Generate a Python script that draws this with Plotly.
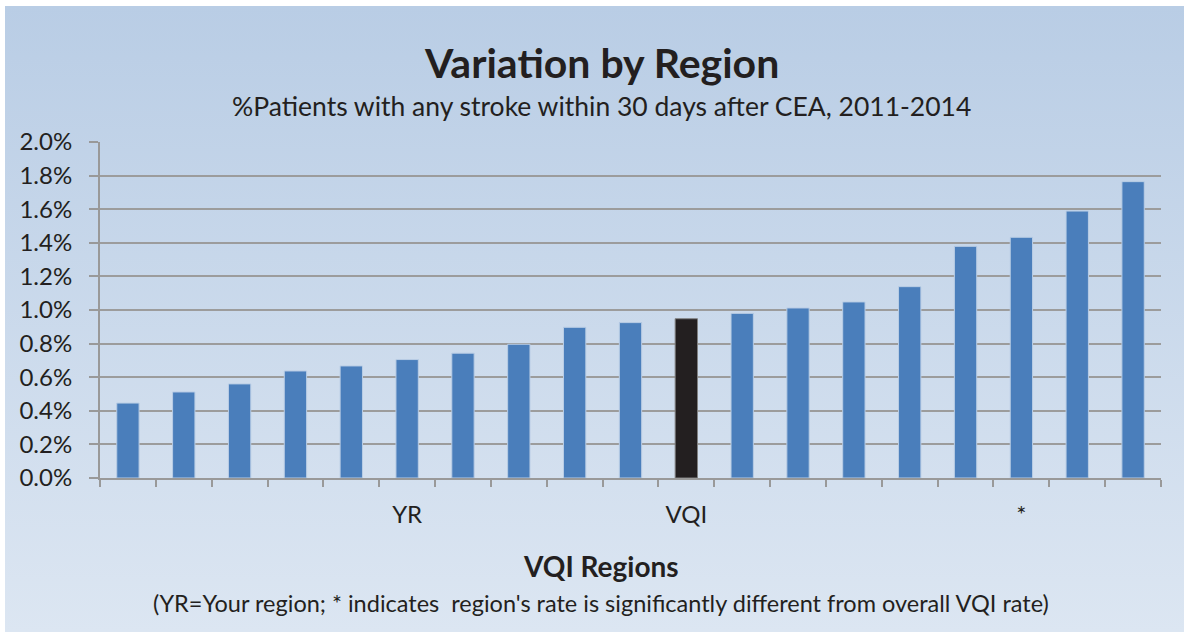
"""Variation by region: 30-day stroke rate after CEA, bar chart."""

import base64

import plotly.graph_objects as go


# --- data -----------------------------------------------------------------
REGION_LABELS = ["", "", "", "", "", "YR", "", "", "", "", "VQI", "", "", "", "", "", "*", "", ""]
STROKE_RATE = [0.446, 0.512, 0.560, 0.637, 0.667, 0.705, 0.743, 0.796, 0.897, 0.925,
               0.948, 0.980, 1.012, 1.048, 1.139, 1.379, 1.433, 1.589, 1.764]  # percent
Y_TICKS = [0.0, 0.2, 0.4, 0.6, 0.8, 1.0, 1.2, 1.4, 1.6, 1.8, 2.0]

BLUE = "#4a7ebb"
BLACK = "#231f20"
FONT = "Lato"

# category keys must be unique, blank labels get zero-width padding
categories = [lab if lab else "\u200b" * (i + 1) for i, lab in enumerate(REGION_LABELS)]
colors = [BLACK if lab == "VQI" else BLUE for lab in REGION_LABELS]
edges = ["#808080" if lab == "VQI" else "#b9cde5" for lab in REGION_LABELS]

# background gradient as an inline svg
svg = (
    '<svg xmlns="http://www.w3.org/2000/svg" width="1184" height="632" '
    'viewBox="0 0 100 100" preserveAspectRatio="none">'
    '<defs><linearGradient id="g" x1="0" y1="0" x2="0" y2="1">'
    '<stop offset="0" stop-color="#b9cde5"/><stop offset="1" stop-color="#dce6f2"/>'
    '</linearGradient></defs><rect x="0" y="0" width="100" height="100" fill="url(#g)"/></svg>'
)
bg_src = "data:image/svg+xml;base64," + base64.b64encode(svg.encode()).decode()

W, H = 1184, 632
ML, MR, MT, MB = 100, 23, 142, 154
plot_w = W - ML - MR
plot_h = H - MT - MB


def px(x_pix):
    return (x_pix - ML) / plot_w


def py(y_pix):
    return (H - MB - y_pix) / plot_h


fig = go.Figure(
    go.Bar(
        x=categories,
        y=STROKE_RATE,
        marker=dict(color=colors, line=dict(color=edges, width=1)),
        hovertemplate="%{y:.2f}%<extra></extra>",
    )
)

fig.update_layout(
    width=W,
    height=H,
    margin=dict(l=ML, r=MR, t=MT, b=MB),
    paper_bgcolor="#dce6f2",
    plot_bgcolor="white",
    bargap=0.6,
    showlegend=False,
    font=dict(family=FONT, color="#231f20"),
    images=[dict(
        source=bg_src, xref="paper", yref="paper",
        x=px(5), y=py(6), sizex=(W - 5) / plot_w, sizey=(H - 6) / plot_h,
        xanchor="left", yanchor="top", sizing="stretch", layer="below",
    )],
    shapes=[
        # white frame strips along the left and top edges
        dict(type="rect", xref="paper", yref="paper", x0=px(0), x1=px(5), y0=py(H), y1=py(0),
             fillcolor="white", line_width=0, layer="below"),
        dict(type="rect", xref="paper", yref="paper", x0=px(0), x1=px(W), y0=py(6), y1=py(0),
             fillcolor="white", line_width=0, layer="below"),
    ],
)

fig.update_xaxes(
    type="category",
    tickson="boundaries",
    ticks="outside",
    ticklen=7,
    tickwidth=2,
    tickcolor="#999999",
    showline=True,
    linecolor="#999999",
    linewidth=2,
    showgrid=False,
    tickfont=dict(size=24, color="#231f20"),
    ticklabelstandoff=14,
)
fig.update_yaxes(
    range=[0, 2.0],
    tickvals=Y_TICKS,
    ticktext=[f"{v:.1f}%" for v in Y_TICKS],
    ticks="outside",
    ticklen=9,
    tickwidth=2,
    tickcolor="#999999",
    showline=True,
    linecolor="#999999",
    linewidth=2,
    showgrid=True,
    gridcolor="#9c9c9c",
    gridwidth=2,
    zeroline=False,
    tickfont=dict(size=24, color="#231f20"),
    ticklabelstandoff=12,
)

texts = [
    ("<b>Variation by Region</b>", 63, 41),
    ("%Patients with any stroke within 30 days after CEA, 2011-2014", 106, 26.5),
    ("<b>VQI Regions</b>", 566, 28),
    ("(YR=Your region; * indicates  region's rate is significantly different from overall VQI rate)", 603, 23.5),
]
for text, ypos, size in texts:
    fig.add_annotation(
        text=text, xref="paper", yref="paper", x=px(601), y=py(ypos),
        xanchor="center", yanchor="middle", showarrow=False,
        font=dict(size=size, color="#231f20", family=FONT),
    )

# page body has a default margin, drop it so the chart fills the window
fig.write_html(
    "out.html",
    config={"displayModeBar": False},
    post_script=(
        "document.body.style.margin='0';document.body.style.overflow='hidden';"
        "document.body.style.background='#dce6f2';"
        "document.documentElement.style.background='#dce6f2';"
    ),
)
